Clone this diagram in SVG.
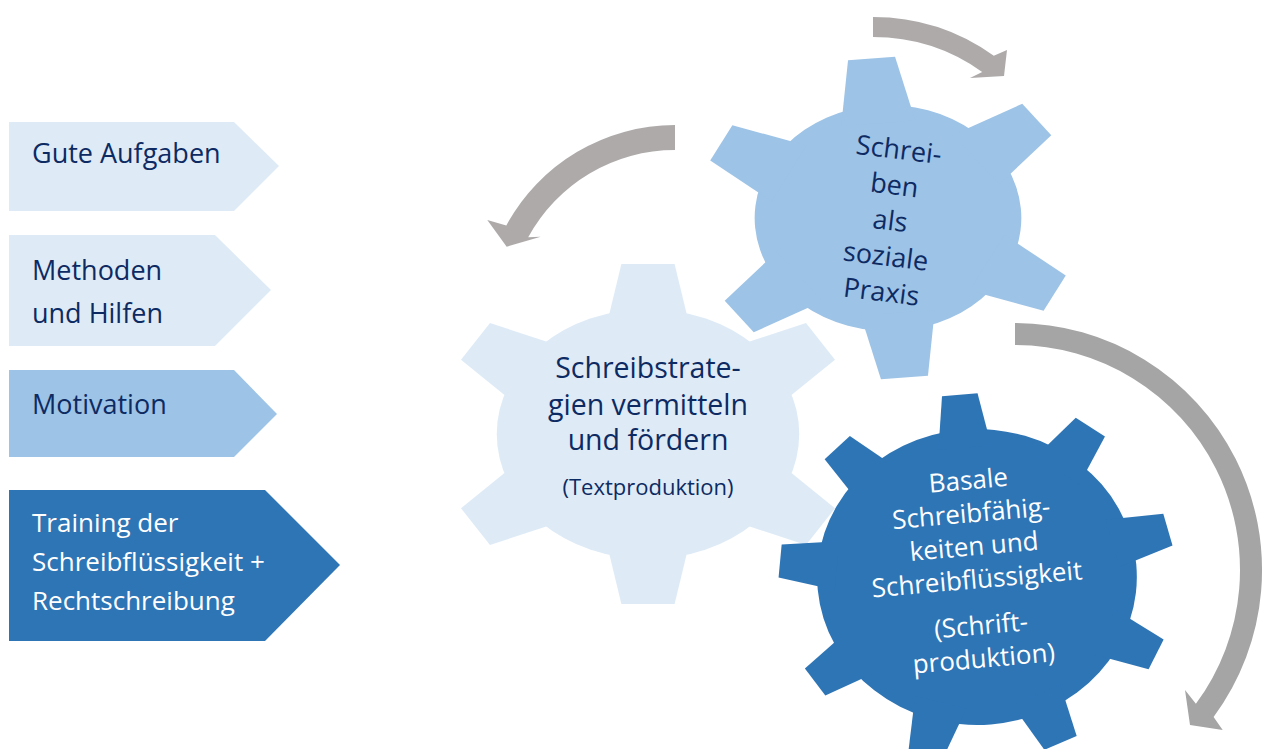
<svg xmlns="http://www.w3.org/2000/svg" xmlns:xlink="http://www.w3.org/1999/xlink" width="1263" height="749" viewBox="0 0 1263 749">
<style>
.light{fill:#deebf7}
.mid{fill:#9dc3e6}
.dark{fill:#2e75b6}
.arrowA{fill:#aeaaaa}
.arrowB{fill:#a5a5a5}
text{font-family:"Open Sans","Noto Sans","Liberation Sans",sans-serif}
.navy{fill:#0d2a62}
.white{fill:#ffffff}
.box{font-size:27px}
.box4{font-size:26px}
.gA{font-size:28.5px;text-anchor:middle}
.gAs{font-size:22px;text-anchor:middle}
.gB{font-size:27px;text-anchor:middle}
.gC{font-size:26px;text-anchor:middle}
</style>
<defs>
<polygon id="toothA" points="-22,-170 22,-170 35,-105 -35,-105"/>
<polygon id="toothB" points="-20,-160 20,-160 31.5,-95 -31.5,-95"/>
<polygon id="toothC" points="-16.5,-183 16.5,-183 24.5,-130 -24.5,-130"/>
</defs>

<g id="box-gute-aufgaben">
<polygon class="light" points="9,122 234,122 279,166 234,211 9,211"/>
<text class="box navy" x="32" y="163">Gute Aufgaben</text>
</g>
<g id="box-methoden">
<polygon class="light" points="9,235 215,235 271,290 215,346 9,346"/>
<text class="box navy" x="32" y="280">Methoden</text>
<text class="box navy" x="32" y="323">und Hilfen</text>
</g>
<g id="box-motivation">
<polygon class="mid" points="9,370 234,370 277,414 234,457 9,457"/>
<text class="box navy" x="32" y="414">Motivation</text>
</g>
<g id="box-training">
<polygon class="dark" points="9,490 265,490 340,565 265,641 9,641"/>
<text class="box4 white" x="32" y="532">Training der</text>
<text class="box4 white" x="32" y="571">Schreibflüssigkeit +</text>
<text class="box4 white" x="32" y="610">Rechtschreibung</text>
</g>

<g id="gear-schreibstrategien">
<g class="light" transform="translate(648,434) scale(1.21,1)">
<circle r="125"/>
<use xlink:href="#toothA"/>
<use xlink:href="#toothA" transform="rotate(57)"/>
<use xlink:href="#toothA" transform="rotate(123)"/>
<use xlink:href="#toothA" transform="rotate(180)"/>
<use xlink:href="#toothA" transform="rotate(237)"/>
<use xlink:href="#toothA" transform="rotate(303)"/>
</g>
<text class="gA navy" x="648" y="378">Schreibstrate-</text>
<text class="gA navy" x="648" y="415">gien vermitteln</text>
<text class="gA navy" x="648" y="450">und fördern</text>
<text class="gAs navy" x="648" y="495">(Textproduktion)</text>
</g>

<g id="gear-soziale-praxis">
<g class="mid" transform="translate(888,218) scale(1.18,1) rotate(-5)">
<circle r="113"/>
<use xlink:href="#toothB"/>
<use xlink:href="#toothB" transform="rotate(57)"/>
<use xlink:href="#toothB" transform="rotate(123)"/>
<use xlink:href="#toothB" transform="rotate(180)"/>
<use xlink:href="#toothB" transform="rotate(237)"/>
<use xlink:href="#toothB" transform="rotate(303)"/>
</g>
<g transform="translate(889,230) rotate(7)">
<text class="gB navy" x="0" y="-71.6">Schrei-</text>
<text class="gB navy" x="0" y="-35.8">ben</text>
<text class="gB navy" x="0" y="0">als</text>
<text class="gB navy" x="0" y="35.8">soziale</text>
<text class="gB navy" x="0" y="71.6">Praxis</text>
</g>
</g>

<g id="gear-basale">
<g class="dark" transform="translate(977,577) scale(1.08,1) rotate(-5)">
<circle r="148"/>
<use xlink:href="#toothC"/>
<use xlink:href="#toothC" transform="rotate(40)"/>
<use xlink:href="#toothC" transform="rotate(80)"/>
<use xlink:href="#toothC" transform="rotate(120)"/>
<use xlink:href="#toothC" transform="rotate(160)"/>
<use xlink:href="#toothC" transform="rotate(200)"/>
<use xlink:href="#toothC" transform="rotate(240)"/>
<use xlink:href="#toothC" transform="rotate(280)"/>
<use xlink:href="#toothC" transform="rotate(320)"/>
</g>
<g transform="translate(977.7,588.3) rotate(-5)">
<text class="gC white" x="0" y="-99.4">Basale</text>
<text class="gC white" x="0" y="-66.3">Schreibfähig-</text>
<text class="gC white" x="0" y="-33.1">keiten und</text>
<text class="gC white" x="0" y="0">Schreibflüssigkeit</text>
<text class="gC white" x="0" y="46.2">(Schrift-</text>
<text class="gC white" x="0" y="79.4">produktion)</text>
</g>
</g>

<g id="connectors">
<path class="arrowA" d="M 873,17 A 208 208 0 0 1 993.8,55.7 L 1007,50 L 1004,76 L 970,78 L 982.2,71.9 A 188 188 0 0 0 873,37 Z"/>
<path class="arrowA" d="M 675,125 A 192 192 0 0 0 506.3,225.4 L 487.3,220 L 506.7,246.7 L 540.7,236.7 L 528.2,237.3 A 167 167 0 0 1 675,150 Z"/>
<path class="arrowB" d="M 1015,323 A 247 247 0 0 1 1213.6,716.9 L 1222.7,730 L 1190,725 L 1185,690 L 1195.9,703.8 A 225 225 0 0 0 1015,345 Z"/>
</g>
</svg>
